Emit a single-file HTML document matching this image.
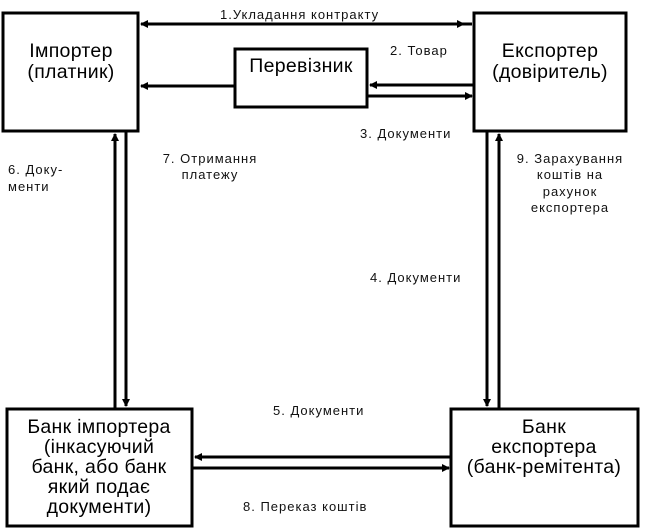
<!DOCTYPE html>
<html><head><meta charset="utf-8">
<style>
html,body{margin:0;padding:0;background:#fff;}
svg{display:block;}
.b{font-family:"Liberation Sans","DejaVu Sans",sans-serif;font-size:19.5px;letter-spacing:0.3px;fill:#000;}
.s{font-family:"Liberation Sans","DejaVu Sans",sans-serif;font-size:13px;letter-spacing:1px;fill:#111;}
</style></head><body>
<svg width="650" height="531" viewBox="0 0 650 531" xmlns="http://www.w3.org/2000/svg">
<defs>
<marker id="a" markerWidth="8" markerHeight="8" refX="7" refY="4" orient="auto" markerUnits="userSpaceOnUse">
<path d="M0,0 L8,4 L0,8 z" fill="#000"/></marker>
</defs>
<g fill="none" stroke="#000" stroke-width="3">
<rect x="3" y="13" width="135" height="118"/>
<rect x="474" y="13" width="152" height="118"/>
<rect x="235" y="49" width="132" height="58"/>
<rect x="7" y="409" width="185" height="117"/>
<rect x="451" y="409" width="187" height="117"/>
</g>
<g stroke="#000" stroke-width="3">
<line x1="148" y1="24" x2="464" y2="24" marker-end="url(#a)"/>
<line x1="472" y1="24" x2="141" y2="24" marker-end="url(#a)"/>
<line x1="235" y1="86" x2="141" y2="86" marker-end="url(#a)"/>
<line x1="474" y1="85" x2="370" y2="85" marker-end="url(#a)"/>
<line x1="367" y1="96" x2="472" y2="96" marker-end="url(#a)"/>
<line x1="115" y1="408" x2="115" y2="134" marker-end="url(#a)"/>
<line x1="126" y1="132" x2="126" y2="406" marker-end="url(#a)"/>
<line x1="487" y1="132" x2="487" y2="406" marker-end="url(#a)"/>
<line x1="499" y1="408" x2="499" y2="134" marker-end="url(#a)"/>
<line x1="451" y1="457" x2="195" y2="457" marker-end="url(#a)"/>
<line x1="192" y1="468" x2="449" y2="468" marker-end="url(#a)"/>
</g>
<g class="b" text-anchor="middle">
<text x="71" y="57">Імпортер</text>
<text x="71" y="78">(платник)</text>
<text x="550" y="57">Експортер</text>
<text x="550" y="78">(довіритель)</text>
<text x="301" y="72">Перевізник</text>
<text x="99" y="433">Банк імпортера</text>
<text x="99" y="453">(інкасуючий</text>
<text x="99" y="473">банк, або банк</text>
<text x="99" y="493">який подає</text>
<text x="99" y="513">документи)</text>
<text x="544" y="433">Банк</text>
<text x="544" y="453">експортера</text>
<text x="544" y="473">(банк-ремітента)</text>
</g>
<g class="s">
<text x="220" y="19">1.Укладання контракту</text>
<text x="390" y="55">2. Товар</text>
<text x="360" y="138">3. Документи</text>
<text x="8" y="174">6. Доку-</text>
<text x="8" y="191">менти</text>
<text x="370" y="282">4. Документи</text>
<text x="273" y="415">5. Документи</text>
<text x="243" y="511">8. Переказ коштів</text>
</g>
<g class="s" text-anchor="middle">
<text x="210" y="163">7. Отримання</text>
<text x="210" y="179">платежу</text>
<text x="570" y="163">9. Зарахування</text>
<text x="570" y="179">коштів на</text>
<text x="570" y="196">рахунок</text>
<text x="570" y="212">експортера</text>
</g>
</svg>
</body></html>
